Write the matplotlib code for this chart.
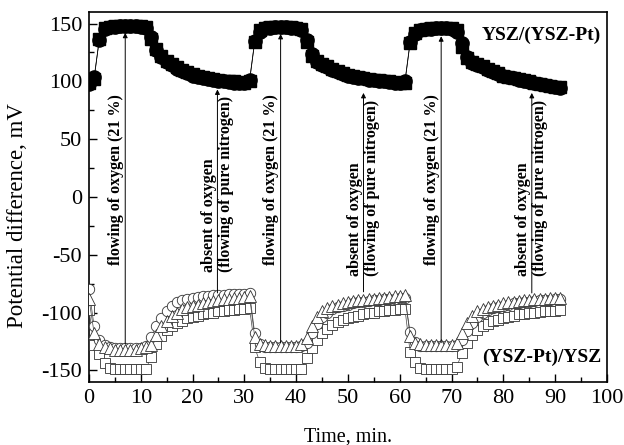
import matplotlib
matplotlib.use("Agg")
import matplotlib.pyplot as plt
from matplotlib.ticker import MultipleLocator

plt.rcParams['font.family'] = ['Liberation Serif', 'DejaVu Serif']
plt.rcParams['axes.unicode_minus'] = False

# sampling times, min
t = [0, 1, 2, 3, 4, 5, 6, 7, 8, 9, 10, 11, 12, 13, 14, 15, 16, 17, 18, 19,
     20, 21, 22, 23, 24, 25, 26, 27, 28, 29, 30, 31, 32, 33, 34, 35, 36, 37, 38, 39,
     40, 41, 42, 43, 44, 45, 46, 47, 48, 49, 50, 51, 52, 53, 54, 55, 56, 57, 58, 59,
     60, 61, 62, 63, 64, 65, 66, 67, 68, 69, 70, 71, 72, 73, 74, 75, 76, 77, 78, 79,
     80, 81, 82, 83, 84, 85, 86, 87, 88, 89, 90, 91]

# YSZ/(YSZ-Pt), filled markers
top_sq = [99, 102, 137, 146, 147, 148, 148, 148, 148, 148, 148, 147, 137, 128, 122, 118, 115, 112, 110, 108,
          106, 105, 104, 103, 102, 101, 100.5, 100, 100, 99.5, 99, 100, 134, 144, 146, 147, 147, 147, 147, 147,
          146, 145, 134, 122, 118, 115, 113, 111, 109, 107, 105.5, 104.5, 103.5, 103, 102, 101.5, 101, 100.5, 100, 99.5,
          99, 99, 133, 142, 144, 145, 146, 146, 146, 146, 146, 144, 130, 120, 117, 115, 113, 111, 109, 107,
          105, 104, 103, 102, 101, 100, 99, 98, 97, 96, 95, 95]
top_ci = [98, 104, 136, 145, 147, 147, 148, 148, 148, 148, 147, 146, 138, 127, 121, 117, 114, 111, 109, 107,
          105, 104, 103, 102, 101, 100, 100, 99.5, 99, 99, 99, 101, 135, 143, 146, 146, 147, 147, 147, 146,
          146, 144, 136, 124, 117, 114, 112, 110, 108, 106, 105, 104, 103, 102.5, 101.5, 101, 100.5, 100, 99.5, 99,
          98.5, 100, 134, 141, 144, 145, 145, 146, 146, 146, 145, 143, 133, 121, 116, 114, 112, 110, 108, 106,
          104.5, 103.5, 102.5, 101.5, 100.5, 99.5, 98.5, 97.5, 96.5, 96, 95, 94.5]

# (YSZ-Pt)/YSZ, open markers
low_sq = [-98, -128, -136, -144, -148, -149, -149, -149, -149, -149, -149, -149, -138, -127, -120, -115, -112, -109, -107, -105,
          -104, -102.5, -101.5, -100.5, -100, -99, -98.5, -98, -97.5, -97, -96.5, -96, -130, -143, -148, -149, -149, -149, -149, -149,
          -149, -149, -139, -131, -124, -118, -114, -111, -108.5, -106.5, -105, -103.5, -102.5, -101.5, -100.5, -100, -99, -98.5, -98, -97.5,
          -97, -96.5, -134, -143, -148, -149, -149, -149, -149, -149, -149, -147, -135, -126, -119, -115, -112, -109.5, -107.5, -106,
          -104.5, -103.5, -102.5, -101.5, -101, -100.5, -100, -99.5, -99, -99, -98.5, -98]
low_ci = [-80, -112, -124, -128, -130, -131, -131, -131, -131, -131, -131, -129, -121, -112, -105, -99, -94, -91, -89, -88,
          -87, -86.5, -86, -85.5, -85, -85, -84.5, -84, -84, -83.5, -83.5, -83, -118, -127, -130, -130, -130, -130, -130, -130,
          -130, -129, -126, -118, -110, -104, -100, -97, -95, -94, -93, -92, -91, -90.5, -90, -89.5, -89, -88.5, -88, -88,
          -87.5, -87, -117, -125, -129, -129, -129, -129, -129, -129, -129, -128, -124, -116, -109, -104, -100, -97.5, -96, -95,
          -94, -93, -92, -91.5, -91, -90.5, -90, -89.5, -89, -89, -88.5, -88]
low_tr = [-88, -118, -127, -130, -131, -132, -132, -132, -132, -132, -131, -130, -128, -119, -112, -107, -103, -100, -97, -95,
          -94, -93, -92, -91, -90, -89, -88.5, -88, -87.5, -87, -86.5, -86, -121, -127, -128, -129, -129, -129, -129, -129,
          -129, -127, -122, -112, -104, -99, -96, -94, -93, -92, -91, -90, -89.5, -89, -88.5, -88, -87.5, -87, -86.5, -86,
          -85.5, -85, -120, -126, -127, -128, -128, -128, -128, -128, -128, -126, -118, -109, -103, -99, -97, -95, -94, -93,
          -92, -91, -90.5, -90, -89.5, -89, -88.5, -88, -88, -87.5, -87.5, -87]

# arrows: (time, bottom, top)
o2_arrows = [(7.0, -127, 142), (37.0, -126, 141), (68.0, -126, 139)]
n2_arrows = [(24.8, -83, 93), (53.0, -82, 90), (85.5, -83, 90)]

fig = plt.figure(figsize=(6.24, 4.45), dpi=100)
ax = fig.add_axes([0.1426, 0.1416, 0.830, 0.8315])

lw = 0.5
ax.plot(t, top_ci, '-', color='black', lw=lw, marker='o', ms=9.5, mfc='black', mec='black', zorder=3)
ax.plot(t, top_sq, '-', color='black', lw=lw, marker='s', ms=8, mfc='black', mec='black', zorder=3)

ax.plot(t, low_sq, '-', color='#444444', lw=lw, marker='s', ms=7.5, mfc='white', mec='#333333', mew=0.6, zorder=3)
ax.plot(t, low_ci, '-', color='#444444', lw=lw, marker='o', ms=7.5, mfc='white', mec='#333333', mew=0.6, zorder=3)
ax.plot(t, low_tr, '-', color='#444444', lw=lw, marker='^', ms=8.5, mfc='white', mec='#333333', mew=0.6, zorder=3)

for x, y0, y1 in o2_arrows + n2_arrows:
    ax.annotate('', xy=(x, y1), xytext=(x, y0),
                arrowprops=dict(arrowstyle='-|>', color='black', lw=0.7,
                                mutation_scale=7, shrinkA=0, shrinkB=0),
                zorder=4)

for x, y0, y1 in o2_arrows:
    ax.text(x - 0.3, 15, 'flowing of oxygen (21 %)', rotation=90, ha='right', va='center',
            fontsize=11.5, fontweight='bold', zorder=5)

n2_text_y = [11, 8, 8]
for (x, y0, y1), ty in zip(n2_arrows, n2_text_y):
    ax.text(x, ty, 'absent of oxygen\n(flowing of pure nitrogen)', rotation=90,
            ha='center', va='center', multialignment='left',
            fontsize=11.5, fontweight='bold', linespacing=1.1, zorder=5)

ax.text(98.8, 140, 'YSZ/(YSZ-Pt)', ha='right', va='center', fontsize=14, fontweight='bold')
ax.text(99, -139, '(YSZ-Pt)/YSZ', ha='right', va='center', fontsize=14, fontweight='bold')

ax.set_xlim(0, 100)
ax.set_ylim(-160, 160)
ax.xaxis.set_major_locator(MultipleLocator(10))
ax.xaxis.set_minor_locator(MultipleLocator(5))
ax.yaxis.set_major_locator(MultipleLocator(50))
ax.yaxis.set_minor_locator(MultipleLocator(25))
ax.tick_params(which='both', direction='in', top=False, right=False, labelsize=16, width=1.0)
ax.tick_params(which='major', length=6, pad=5)
ax.tick_params(which='minor', length=3.5)
for s in ax.spines.values():
    s.set_linewidth(1.2)

ax.set_xlabel('Time, min.', fontsize=14.5, labelpad=14)
ax.set_ylabel('Potential difference, mV', fontsize=16.5)
ax.yaxis.set_label_coords(-0.118, 0.45)

fig.savefig('out.png', dpi=100)
